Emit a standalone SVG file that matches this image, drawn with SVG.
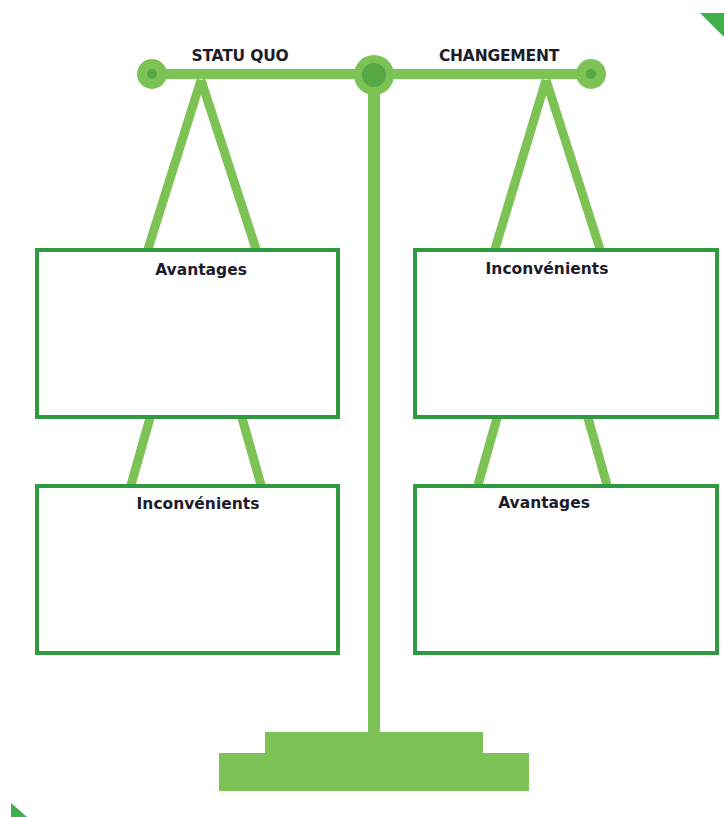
<svg xmlns="http://www.w3.org/2000/svg" width="724" height="817" viewBox="0 0 724 817">
<style>
.lg{fill:#7cc254}
.dk{fill:#55a845}
.rope{stroke:#7cc254;stroke-width:9;stroke-linecap:butt;fill:none}
.box{fill:#ffffff;stroke:#2f9a40;stroke-width:4}
.t{font-family:"DejaVu Sans","Liberation Sans",sans-serif;font-weight:bold;fill:#1c1c2c;text-anchor:middle}
.h{font-size:15.5px;letter-spacing:-0.2px}
.b{font-size:15.5px}
.corner{fill:#3fb04c}
</style>
<rect width="724" height="817" fill="#ffffff"/>
<polygon class="corner" points="700,13 724,13 724,37"/>
<polygon class="corner" points="11,803 11,817 27,817"/>
<g id="connectors">
<line class="rope" x1="201" y1="80" x2="148" y2="249"/>
<line class="rope" x1="201" y1="80" x2="256" y2="249"/>
<line class="rope" x1="546" y1="80" x2="495" y2="249"/>
<line class="rope" x1="546" y1="80" x2="600" y2="249"/>
<line class="rope" x1="150" y1="418" x2="131" y2="485"/>
<line class="rope" x1="242" y1="418" x2="261" y2="485"/>
<line class="rope" x1="497" y1="418" x2="478" y2="485"/>
<line class="rope" x1="588" y1="418" x2="607" y2="485"/>
</g>
<g id="scale">
<rect class="lg" x="150" y="69" width="442" height="10"/>
<rect class="lg" x="368" y="75" width="12" height="660"/>
<rect class="lg" x="265" y="732" width="218" height="22"/>
<rect class="lg" x="219" y="753" width="310" height="38"/>
<circle class="lg" cx="152" cy="74" r="15"/>
<circle class="dk" cx="152" cy="74" r="5"/>
<circle class="lg" cx="591" cy="74" r="15"/>
<circle class="dk" cx="591" cy="74" r="5"/>
<circle class="lg" cx="374" cy="75" r="20"/>
<circle class="dk" cx="374" cy="75" r="12"/>
</g>
<g id="label-statu-quo"><text class="t h" x="240" y="61">STATU QUO</text></g>
<g id="label-changement"><text class="t h" x="499" y="61">CHANGEMENT</text></g>
<g id="box-left-top">
<rect class="box" x="37" y="250" width="301" height="167"/>
<text class="t b" x="201" y="275">Avantages</text>
</g>
<g id="box-left-bottom">
<rect class="box" x="37" y="486" width="301" height="167"/>
<text class="t b" x="198" y="509">Inconvénients</text>
</g>
<g id="box-right-top">
<rect class="box" x="415" y="250" width="302" height="167"/>
<text class="t b" x="547" y="274">Inconvénients</text>
</g>
<g id="box-right-bottom">
<rect class="box" x="415" y="486" width="302" height="167"/>
<text class="t b" x="544" y="508">Avantages</text>
</g>
</svg>
